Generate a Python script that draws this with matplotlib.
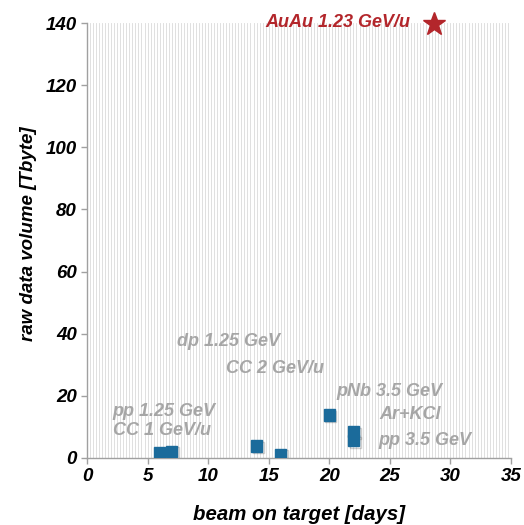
import numpy as np
import matplotlib
matplotlib.use("Agg")
import matplotlib.pyplot as plt
import matplotlib.patheffects as pe

# data
days = [6, 7, 14, 16, 20, 22, 22]
volume = [1.8, 2.1, 3.8, 1.2, 13.8, 8.4, 5.5]
star_days = [28.65]
star_volume = [139.6]

labels = ["dp 1.25 GeV", "CC 2 GeV/u", "pNb 3.5 GeV", "pp 1.25 GeV",
          "Ar+KCl", "CC 1 GeV/u", "pp 3.5 GeV"]
label_x = [7.4, 11.5, 20.6, 2.1, 24.1, 2.15, 24.1]
label_y = [37.6, 28.9, 21.5, 15.0, 13.8, 8.9, 5.7]
star_label = "AuAu 1.23 GeV/u"
star_label_x, star_label_y = 14.7, 140.3

xticks = [0, 5, 10, 15, 20, 25, 30, 35]
yticks = [0, 20, 40, 60, 80, 100, 120, 140]

plt.rcParams['font.family'] = ['Liberation Sans', 'DejaVu Sans']

fig = plt.figure(figsize=(5.24, 5.25), dpi=100)
ax = fig.add_axes([0.166, 0.128, 0.809, 0.828])

ax.set_xlim(0, 35)
ax.set_ylim(0, 140)

# fine vertical grid
for gx in np.arange(0.25, 35.01, 0.25):
    ax.axvline(gx, color='#dadada', lw=0.6, zorder=0)

ax.plot(days, volume, 's', color='#1b6b9b', markersize=8, zorder=3,
        path_effects=[pe.SimpleLineShadow(offset=(1.2, -1.2), alpha=0.25, shadow_color='#444444'), pe.Normal()])
ax.plot(star_days, star_volume, '*', color='#b3262b', markersize=17, zorder=3, clip_on=False)

for t, x, y in zip(labels, label_x, label_y):
    ax.text(x, y, t, color='#a6a6a6', fontsize=13, fontweight='bold', fontstyle='italic',
            ha='left', va='center', zorder=4)
ax.text(star_label_x, star_label_y, star_label, color='#b3262b', fontsize=13,
        fontweight='bold', fontstyle='italic', ha='left', va='center', zorder=4, clip_on=False)

for s in ['top', 'right']:
    ax.spines[s].set_visible(False)
for s in ['left', 'bottom']:
    ax.spines[s].set_color('#a0a0a0')
    ax.spines[s].set_linewidth(1)

ax.set_xticks(xticks)
ax.set_yticks(yticks)
ax.tick_params(axis='both', colors='#a0a0a0', length=4, width=1, labelcolor='black', labelsize=13.5)
for lab in ax.get_xticklabels() + ax.get_yticklabels():
    lab.set_fontweight('bold')
    lab.set_fontstyle('italic')

ax.set_xlabel('beam on target [days]', fontsize=14.7, fontweight='bold', fontstyle='italic', labelpad=14)
ax.set_ylabel('raw data volume [Tbyte]', fontsize=13.5, fontweight='bold', fontstyle='italic')
ax.yaxis.set_label_coords(-0.118, 0.515)

fig.savefig('out.png', dpi=100)
